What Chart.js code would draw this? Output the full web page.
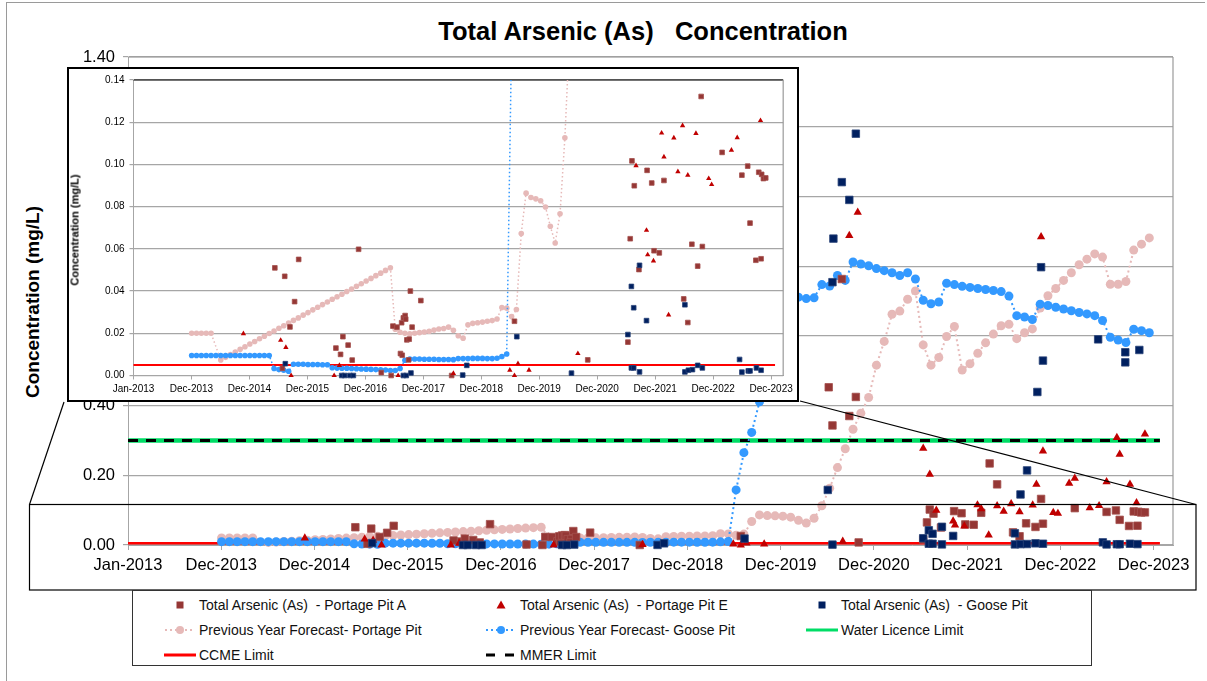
<!DOCTYPE html>
<html>
<head>
<meta charset="utf-8">
<script src="https://cdn.jsdelivr.net/npm/chart.js@4.4.0/dist/chart.umd.min.js"></script>
<style>
  html, body { margin: 0; padding: 0; background: #fff; }
  body { width: 1207px; height: 681px; position: relative; overflow: hidden;
         font-family: "Liberation Sans", Arial, sans-serif; color: #000; }
  #frame { position: absolute; left: 6px; top: 2px; width: 1198px; height: 700px;
           border-left: 1px solid #9a9a9a; border-top: 1px solid #9a9a9a; }
  #mainChart { position: absolute; left: 0; top: 0; z-index: 1; }
  #zoomMarks { position: absolute; left: 0; top: 0; z-index: 2; pointer-events: none; }
  #insetBox { position: absolute; left: 67px; top: 67px; width: 728px; height: 331px;
              border: 2.5px solid #000; background: #fff; z-index: 3; }
  #insetChart { position: absolute; left: 0; top: 0; }
  .ytitle { position: absolute; white-space: nowrap; font-weight: bold; line-height: 1;
            transform: translate(-50%, -50%) rotate(-90deg); }
  #title { position: absolute; left: 643px; top: 19px; transform: translateX(-50%);
           font-size: 25.5px; line-height: 25.5px; font-weight: bold; white-space: pre; }
  #legend { position: absolute; left: 132px; top: 590px; width: 960px; height: 76px;
            box-sizing: border-box; border: 1.5px solid #333; background: #fff; z-index: 2; }
  .item { position: absolute; height: 16px; display: flex; align-items: center;
          font-size: 14px; white-space: pre; color: #111; }
  .item svg { margin-right: 3px; }
</style>
</head>
<body>
<div id="frame"></div>
<div id="title">Total Arsenic (As)   Concentration</div>
<div class="ytitle" style="left:32px;top:302px;font-size:19px;">Concentration (mg/L)</div>
<canvas id="mainChart" width="1207" height="681"></canvas>
<svg id="zoomMarks" width="1207" height="681">
  <rect x="29.5" y="504.5" width="1166.5" height="85.5" fill="none" stroke="#000" stroke-width="1.2"/>
  <line x1="64" y1="402" x2="29.5" y2="504.5" stroke="#000" stroke-width="1.2"/>
  <line x1="800" y1="401" x2="1196" y2="504.5" stroke="#000" stroke-width="1.2"/>
</svg>
<div id="insetBox"><canvas id="insetChart" width="728" height="331"></canvas></div>
<div class="ytitle" style="left:75px;top:230px;font-size:11px;z-index:4;">Concentration (mg/L)</div>

<div id="legend">
  <div class="item" style="left:31px;top:6px;"><svg width="32" height="14"><rect x="12.5" y="3.5" width="7" height="7" fill="#953735"/></svg>Total Arsenic (As)  - Portage Pit A</div>
  <div class="item" style="left:352px;top:6px;"><svg width="32" height="14"><polygon points="16,2.5 20.5,10.5 11.5,10.5" fill="#C00000"/></svg>Total Arsenic (As)  - Portage Pit E</div>
  <div class="item" style="left:673px;top:6px;"><svg width="32" height="14"><rect x="12.5" y="3.5" width="7" height="7" fill="#002060"/></svg>Total Arsenic (As)  - Goose Pit</div>
  <div class="item" style="left:31px;top:31px;"><svg width="32" height="14"><line x1="1" y1="7" x2="31" y2="7" stroke="#E6B9B8" stroke-width="2" stroke-dasharray="2,3"/><circle cx="16" cy="7" r="4" fill="#E6B9B8"/></svg>Previous Year Forecast- Portage Pit</div>
  <div class="item" style="left:352px;top:31px;"><svg width="32" height="14"><line x1="1" y1="7" x2="31" y2="7" stroke="#3399FF" stroke-width="2" stroke-dasharray="2,3"/><circle cx="16" cy="7" r="4" fill="#3399FF"/></svg>Previous Year Forecast- Goose Pit</div>
  <div class="item" style="left:673px;top:31px;"><svg width="32" height="14"><line x1="0" y1="7" x2="32" y2="7" stroke="#00DD66" stroke-width="3"/></svg>Water Licence Limit</div>
  <div class="item" style="left:31px;top:56px;"><svg width="32" height="14"><line x1="0" y1="7" x2="32" y2="7" stroke="#FF0000" stroke-width="3"/></svg>CCME Limit</div>
  <div class="item" style="left:352px;top:56px;"><svg width="32" height="14"><line x1="1" y1="7" x2="32" y2="7" stroke="#000" stroke-width="3" stroke-dasharray="9,10"/></svg>MMER Limit</div>
</div>

<script>
// Total Arsenic (As) concentration - main chart plus zoomed inset (0 - 0.14 mg/L)

const tickLabels = ['Jan-2013', 'Dec-2013', 'Dec-2014', 'Dec-2015', 'Dec-2016', 'Dec-2017',
                    'Dec-2018', 'Dec-2019', 'Dec-2020', 'Dec-2021', 'Dec-2022', 'Dec-2023'];
const axisStart = 2013.0;
const axisEnd = 2024.17;

// measured samples: [decimal year, mg/L]
const portagePitA = [
  [2015.43, 0.051], [2015.60, 0.047], [2015.84, 0.055], [2015.77, 0.035], [2015.69, 0.023],
  [2015.56, 0.0034], [2016.48, 0.013], [2016.56, 0.010], [2016.60, 0.0184], [2016.69, 0.0144],
  [2016.76, 0.0073], [2016.87, 0.0598], [2017.26, 0.0014], [2017.43, 0.0], [2017.46, 0.0234],
  [2017.53, 0.0229], [2017.59, 0.0104], [2017.62, 0.0096], [2017.61, 0.025], [2017.64, 0.0273],
  [2017.67, 0.0284], [2017.68, 0.0267], [2017.70, 0.0169], [2017.74, 0.0172], [2017.73, 0.0074],
  [2017.76, 0.040], [2017.79, 0.0229], [2017.94, 0.0355], [2018.47, 0.0], [2019.55, 0.0257],
  [2020.49, 0.4525], [2020.53, 0.343], [2020.63, 0.763], [2020.71, 0.370], [2020.78, 0.4247],
  [2020.81, 0.0074], [2021.50, 0.0158], [2021.54, 0.0648], [2021.57, 0.1017], [2021.61, 0.0899],
  [2021.69, 0.0502], [2021.83, 0.0972], [2021.91, 0.0912], [2021.95, 0.0591], [2022.04, 0.0581],
  [2022.12, 0.0924], [2022.21, 0.234], [2022.29, 0.174], [2022.46, 0.0363], [2022.53, 0.0251],
  [2022.60, 0.0622], [2022.70, 0.0518], [2022.76, 0.1322], [2022.78, 0.0611], [2023.12, 0.1057],
  [2023.46, 0.0949], [2023.56, 0.0992], [2023.60, 0.0722], [2023.70, 0.0546], [2023.75, 0.0963],
  [2023.79, 0.0553], [2023.80, 0.0953], [2023.83, 0.0933], [2023.87, 0.0936]
];

const portagePitE = [
  [2014.89, 0.0198], [2015.53, 0.0167], [2015.62, 0.0133], [2015.71, 0.0], [2016.45, 0.0],
  [2016.54, 0.0048], [2017.55, 0.0], [2018.50, 0.001], [2019.47, 0.0025], [2019.55, 0.0],
  [2019.61, 0.0056], [2019.80, 0.0025], [2020.64, 0.0104], [2020.71, 0.8876], [2020.80, 0.9546],
  [2021.50, 0.2775], [2021.57, 0.203], [2021.64, 0.0994], [2021.82, 0.0688], [2021.84, 0.0572],
  [2021.94, 0.0543], [2022.08, 0.1149], [2022.12, 0.1036], [2022.20, 0.0287], [2022.29, 0.1126],
  [2022.36, 0.0966], [2022.44, 0.1184], [2022.53, 0.0949], [2022.67, 0.1147], [2022.71, 0.174],
  [2022.76, 0.884], [2022.78, 0.2697], [2022.89, 0.0933], [2022.94, 0.0905], [2023.06, 0.177],
  [2023.12, 0.191], [2023.28, 0.1068], [2023.38, 0.1127], [2023.46, 0.181], [2023.57, 0.308],
  [2023.60, 0.26], [2023.71, 0.174], [2023.78, 0.1208], [2023.87, 0.3185]
];

const goosePit = [
  [2015.61, 0.0056], [2016.58, 0.0], [2016.63, 0.0], [2016.72, 0.0], [2016.78, 0.0],
  [2017.64, 0.0], [2017.69, 0.0], [2017.77, 0.0012], [2018.66, 0.0002], [2018.73, 0.0048],
  [2019.59, 0.0184], [2020.48, 0.158], [2020.53, 0.754], [2020.53, 0.0011], [2020.54, 0.879],
  [2020.63, 1.041], [2020.71, 0.99], [2020.78, 1.18], [2021.50, 0.0194], [2021.56, 0.0422],
  [2021.56, 0.0036], [2021.60, 0.0321], [2021.60, 0.0036], [2021.70, 0.0017], [2021.70, 0.0522],
  [2021.82, 0.026], [2022.48, 0.0335], [2022.48, 0.0017], [2022.54, 0.0025], [2022.54, 0.145],
  [2022.61, 0.214], [2022.61, 0.0028], [2022.70, 0.0048], [2022.72, 0.439], [2022.76, 0.797],
  [2022.78, 0.0036], [2022.78, 0.529], [2023.37, 0.590], [2023.42, 0.0076], [2023.46, 0.0016],
  [2023.57, 0.0022], [2023.60, 0.0022], [2023.66, 0.524], [2023.66, 0.553], [2023.71, 0.0036],
  [2023.79, 0.0025], [2023.81, 0.5595]
];

// previous-year forecasts, one value per month starting Jan-2014
const forecastStart = 2014.0;
const forecastPortage = [
  0.020, 0.020, 0.020, 0.020, 0.020, null,
  0.0074, 0.0086, 0.0099, 0.0111, 0.0124, 0.0136, 0.0149, 0.0161, 0.0174, 0.0186, 0.0199, 0.0211,
  0.0224, 0.0236, 0.0248, 0.0261, 0.0273, 0.0286, 0.0298, 0.0311, 0.0323, 0.0336, 0.0348, 0.0361,
  0.0373, 0.0385, 0.0398, 0.0410, 0.0423, 0.0435, 0.0448, 0.0460, 0.0473, 0.0485, 0.0498, 0.0510,
  0.0219, 0.0205, 0.0200, 0.0197, 0.0200, 0.0203, 0.0206, 0.0210, 0.0215, 0.0220, 0.0223, 0.0229, 0.0214,
  0.0188, 0.0177, 0.0240, 0.0247, 0.0250, 0.0253, 0.0257, 0.0260, 0.0268, 0.0322, 0.0319, 0.0279,
  0.0313, 0.0673, 0.0864, 0.0843, 0.0837, 0.0828, 0.0798, 0.0707, 0.0628, 0.0766, 0.1126,
  0.163, 0.222, 0.276, 0.332, 0.378, 0.423, 0.516, 0.584, 0.662, 0.671, 0.705, 0.729,
  0.574, 0.516, 0.538, 0.598, 0.627, 0.502, 0.520, 0.550, 0.580, 0.605, 0.629, 0.633,
  0.592, 0.609, 0.620, 0.680, 0.715, 0.736, 0.759, 0.781, 0.804, 0.820, 0.835, 0.826,
  0.748, 0.748, 0.756, 0.846, 0.863, 0.881
];
const forecastGoose = [
  0.0095, 0.0095, 0.0095, 0.0095, 0.0095, 0.0095, 0.0095, 0.0095, 0.0095, 0.0095, 0.0095, 0.0095,
  0.0095, 0.0095, 0.0095, 0.0095, 0.0095,
  0.0033, 0.0028, 0.0025, 0.0020,
  0.0053, 0.0053, 0.0053, 0.0052, 0.0052, 0.0052, 0.0051, 0.0051,
  0.0037, 0.0035, 0.0034, 0.0034, 0.0033, 0.0032, 0.0031, 0.0030, 0.0029, 0.0028, 0.0027, 0.0026,
  0.0024, 0.0024, 0.0033,
  0.0072,
  0.0078, 0.0078, 0.0078, 0.0077, 0.0077, 0.0077, 0.0076, 0.0076, 0.0076, 0.0075, 0.0080, 0.0080,
  0.0080, 0.0081, 0.0081, 0.0081, 0.0080, 0.0080, 0.0082,
  0.0090, 0.0102,
  0.158, 0.265, 0.323, 0.411, 0.50, 0.58, 0.65, 0.70,
  0.711, 0.707, 0.709, 0.747, 0.743, 0.773, 0.759, 0.812, 0.806, 0.801, 0.793, 0.787,
  0.781, 0.773, 0.781, 0.763, 0.702, 0.692, 0.697, 0.751, 0.747, 0.742, 0.739, 0.736,
  0.733, 0.730, 0.727, 0.714, 0.658, 0.654, 0.647, 0.691, 0.687, 0.682, 0.677, 0.672,
  0.667, 0.663, 0.658, 0.644, 0.596, 0.588, 0.581, 0.619, 0.615, 0.609
];

// guideline limits (mg/L) and the span they are drawn over
const limitSpan = [2013.0, 2024.03];
const waterLicenceLimit = 0.3;
const ccmeLimit = 0.005;
const mmerLimit = 0.3;

// Excel-style date axis: a major unit every 364 days from Jan-2013
const tickYears = tickLabels.map((_, i) => axisStart + i * 364 / 365.25);

const CHART_FONT = "'Liberation Sans', Arial, sans-serif";
Chart.defaults.font.family = CHART_FONT;
Chart.defaults.animation = false;

function buildDatasets(m) {
  const pts = arr => arr.map(([x, y]) => ({x, y}));
  const monthly = vals => vals.map((y, i) => ({x: forecastStart + i / 12, y}));
  const limit = v => limitSpan.map(x => ({x, y: v}));
  const clip = {left: 8, top: 0, right: 8, bottom: 10};
  return [
    {label: 'Total Arsenic (As)  - Goose Pit', data: pts(goosePit), pointStyle: 'rect',
     pointRadius: m.square, backgroundColor: '#002060', borderColor: '#2a4478', pointBorderWidth: 0.8, order: 1, clip},
    {label: 'Total Arsenic (As)  - Portage Pit E', data: pts(portagePitE), pointStyle: 'triangle',
     pointRadius: m.triangle, backgroundColor: '#C00000', borderColor: '#C00000', pointBorderWidth: 0, order: 2, clip},
    {label: 'Total Arsenic (As)  - Portage Pit A', data: pts(portagePitA), pointStyle: 'rect',
     pointRadius: m.square, backgroundColor: '#953735', borderColor: '#a5504e', pointBorderWidth: 0.8, order: 3, clip},
    {label: 'Previous Year Forecast- Goose Pit', data: monthly(forecastGoose), showLine: true, spanGaps: true,
     borderColor: '#3399FF', backgroundColor: '#3399FF', borderWidth: m.line, borderDash: m.dash,
     pointRadius: m.circle, pointBorderWidth: 0, order: 4, clip},
    {label: 'Previous Year Forecast- Portage Pit', data: monthly(forecastPortage), showLine: true, spanGaps: true,
     borderColor: '#E6B9B8', backgroundColor: '#E6B9B8', borderWidth: m.line, borderDash: m.dash,
     pointRadius: m.circle, pointBorderWidth: 0, order: 5, clip},
    {label: 'MMER Limit', data: limit(mmerLimit), showLine: true, borderColor: '#000',
     borderWidth: m.mmer, borderDash: [10, 8], pointRadius: 0, order: 6, clip},
    {label: 'CCME Limit', data: limit(ccmeLimit), showLine: true, borderColor: '#FF0000',
     borderWidth: m.ccme, pointRadius: 0, order: 7, clip},
    {label: 'Water Licence Limit', data: limit(waterLicenceLimit), showLine: true, borderColor: '#00DD66',
     borderWidth: m.green, pointRadius: 0, order: 8, clip}
  ];
}

// top / right outline of the plot area, as Excel draws it
const plotFrame = {
  id: 'plotFrame',
  beforeDatasetsDraw(chart, args, opts) {
    const {left, top, right, bottom} = chart.chartArea;
    const ctx = chart.ctx;
    ctx.save();
    ctx.lineWidth = 1.2;
    ctx.strokeStyle = opts.topColor;
    ctx.beginPath(); ctx.moveTo(left, top); ctx.lineTo(right, top); ctx.stroke();
    ctx.strokeStyle = opts.rightColor;
    ctx.beginPath(); ctx.moveTo(right, top); ctx.lineTo(right, bottom); ctx.stroke();
    ctx.restore();
  }
};

function makeOptions(cfg) {
  return {
    responsive: false,
    events: [],
    layout: {padding: cfg.padding},
    plugins: {
      legend: {display: false},
      tooltip: {enabled: false},
      title: {display: false},
      plotFrame: {topColor: cfg.topColor, rightColor: '#9a9a9a'}
    },
    scales: {
      x: {
        type: 'linear', min: axisStart, max: axisEnd,
        afterBuildTicks: s => { s.ticks = tickYears.map(value => ({value})); },
        afterFit: s => { s.height = cfg.xHeight; },
        grid: {drawOnChartArea: false, drawTicks: true, tickLength: cfg.tickLength, color: '#A6A6A6'},
        border: {display: true, color: '#A6A6A6'},
        ticks: {autoSkip: false, maxRotation: 0, minRotation: 0, padding: cfg.xPad, color: '#000',
                font: {size: cfg.fontSize}, callback: (v, i) => tickLabels[i]}
      },
      y: {
        type: 'linear', min: 0, max: cfg.yMax,
        afterFit: s => { s.width = cfg.yWidth; },
        grid: {color: '#A6A6A6', lineWidth: cfg.gridWidth, tickLength: cfg.tickLength},
        border: {display: true, color: '#A6A6A6'},
        ticks: {stepSize: cfg.yStep, padding: cfg.yPad, color: '#000',
                font: {size: cfg.fontSize}, callback: v => v.toFixed(2)}
      }
    }
  };
}

new Chart(document.getElementById('mainChart'), {
  type: 'scatter',
  data: {datasets: buildDatasets({square: 5.3, triangle: 4.8, circle: 4.5, line: 2, dash: [2, 3],
                                  mmer: 3, ccme: 2.5, green: 4.5})},
  options: makeOptions({padding: {left: 68, top: 57, right: 34, bottom: 96},
                        yWidth: 60, xHeight: 40, yMax: 1.4, yStep: 0.2, fontSize: 16.5,
                        tickLength: 5, xPad: 6, yPad: 8, gridWidth: 1.2, topColor: '#9a9a9a'}),
  plugins: [plotFrame]
});

new Chart(document.getElementById('insetChart'), {
  type: 'scatter',
  data: {datasets: buildDatasets({square: 3.3, triangle: 3.1, circle: 2.8, line: 1.5, dash: [1.5, 2.5],
                                  mmer: 2, ccme: 2, green: 3})},
  options: makeOptions({padding: {left: 24.5, top: 6.5, right: 11.5, bottom: 2.5},
                        yWidth: 40, xHeight: 22, yMax: 0.14, yStep: 0.02, fontSize: 10,
                        tickLength: 4, xPad: 4, yPad: 5, gridWidth: 1.2, topColor: '#000'}),
  plugins: [plotFrame]
});
</script>
</body>
</html>
